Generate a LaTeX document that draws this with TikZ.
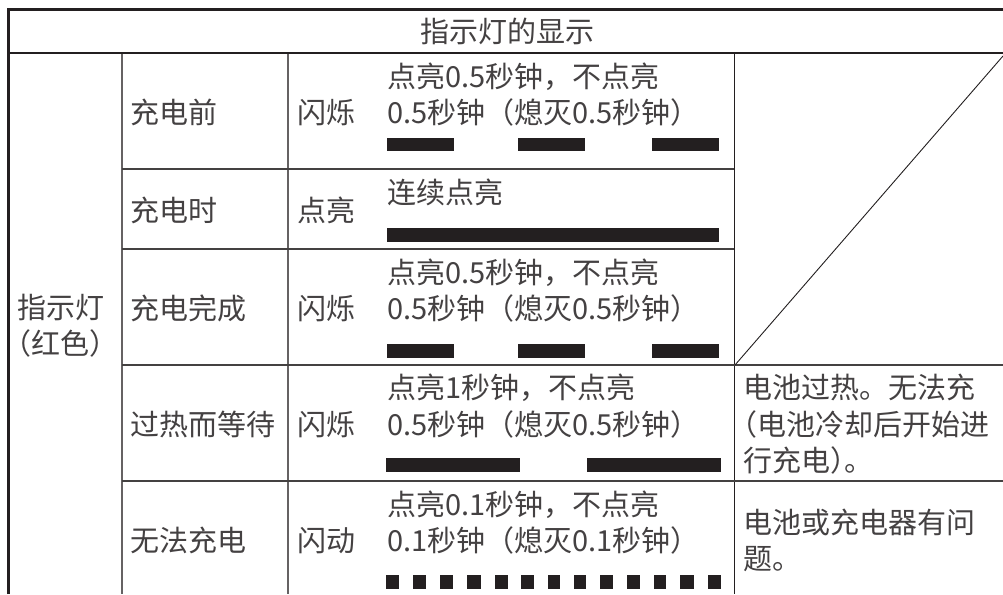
\documentclass[tikz,border=0pt]{standalone}
\usepackage{fontspec}
\setmainfont{Noto Sans CJK SC}
\begin{document}
\begin{tikzpicture}[x=1pt,y=-1pt,
  heavy/.style={draw=ink,line width=2.6pt},
  rowline/.style={draw=ink!85!white,line width=1.4pt},
  colline/.style={draw=ink!70!white,line width=1.5pt},
  thinline/.style={draw=ink,line width=1.1pt},
  lab/.style={anchor=west,inner sep=0pt,text height=24pt,text depth=2pt,text=ink!85!white,font=\fontsize{29}{30}\selectfont},
  bar/.style={fill=ink,draw=none}]
\definecolor{ink}{HTML}{231F20}
\useasboundingbox (0,0) rectangle (1003,594);
\fill[white] (0,0) rectangle (1003,594);
% grid
\draw[colline] (122,53) -- (122,594);
\draw[colline] (288,53) -- (288,594);
\draw[thinline] (734.5,53) -- (734.5,594);
\draw[thinline] (8,53) -- (1003,53);
\draw[rowline] (122,169) -- (734,169) (122,249) -- (734,249);
\draw[rowline] (122,365) -- (1003,365) (122,481) -- (1003,481);
\draw[heavy] (8.5,594) -- (8.5,9.5) -- (1003,9.5);
\draw[draw=ink,line width=.9pt] (735,365) -- (1003,56);
% title
\node[lab,anchor=center] (title) at (507.5,31) {指示灯的显示};
% left column
\node[lab] (lamp1) at (17,307) {指示灯};
\node[lab] (lamp2) at (17,343) {\hspace{-14.5pt}（红色）};
% state column
\node[lab] (s1) at (130,112) {充电前};
\node[lab] (s2) at (130,210) {充电时};
\node[lab] (s3) at (130,308) {充电完成};
\node[lab] (s4) at (130,424) {过热而等待};
\node[lab] (s5) at (130,540) {无法充电};
% mode column
\node[lab] (m1) at (297,112) {闪烁};
\node[lab] (m2) at (297,210) {点亮};
\node[lab] (m3) at (297,308) {闪烁};
\node[lab] (m4) at (297,424) {闪烁};
\node[lab] (m5) at (297,540) {闪动};
% description column
\node[lab] (d1a) at (387,76) {点亮0.5秒钟，不点亮};
\node[lab] (d1b) at (387,112) {0.5秒钟（熄灭0.5秒钟）};
\node[lab] (d2a) at (387,192) {连续点亮};
\node[lab] (d3a) at (387,272) {点亮0.5秒钟，不点亮};
\node[lab] (d3b) at (387,308) {0.5秒钟（熄灭0.5秒钟）};
\node[lab] (d4a) at (387,387) {点亮1秒钟，不点亮};
\node[lab] (d4b) at (387,424) {0.5秒钟（熄灭0.5秒钟）};
\node[lab] (d5a) at (387,504) {点亮0.1秒钟，不点亮};
\node[lab] (d5b) at (387,540) {0.1秒钟（熄灭0.1秒钟）};
% remark column
\node[lab] (r4a) at (743,387) {电池过热。无法充};
\node[lab] (r4b) at (743,424) {\hspace{-14.5pt}（电池冷却后开始进};
\node[lab] (r4c) at (743,460) {行充电）\hspace{-14.5pt}。};
\node[lab] (r5a) at (743,522) {电池或充电器有问};
\node[lab] (r5b) at (743,558) {题。};
% bars
\foreach \a/\b in {386.5/454,518/585,652/719} {
  \fill[bar] (\a,137.5) rectangle (\b,151);
  \fill[bar] (\a,344) rectangle (\b,358);
}
\fill[bar] (386.5,228) rectangle (719,242);
\foreach \a/\b in {386/520,587/721} \fill[bar] (\a,458) rectangle (\b,472);
\foreach \a/\b in {386/399,413/426,440/453,467/481,495/508,521/534,548/560,574/586,600/613,627/640,654/666,680/694,708/721}
  \fill[bar] (\a,575) rectangle (\b,589);
\end{tikzpicture}
\end{document}
